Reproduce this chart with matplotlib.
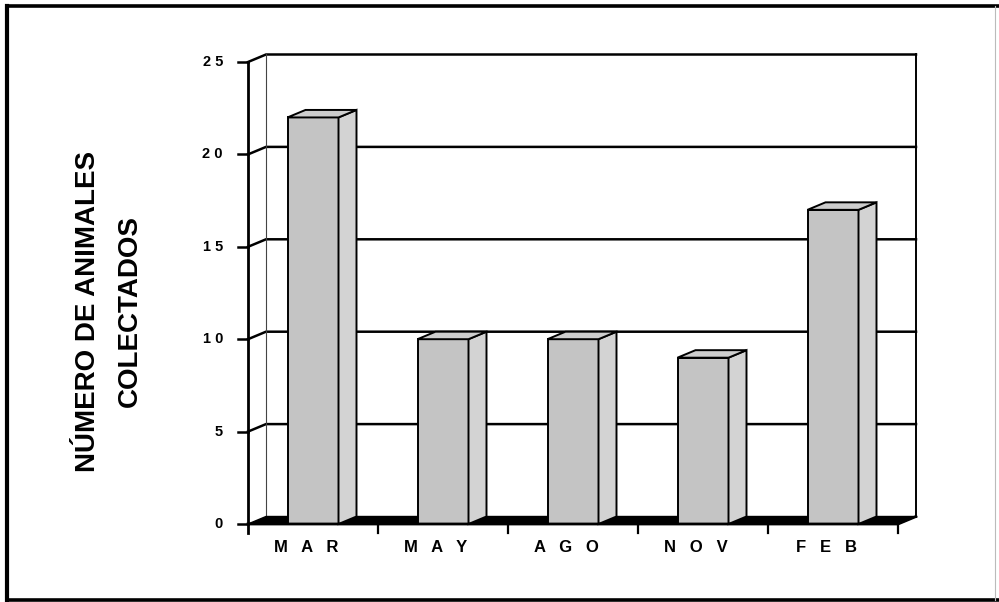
import matplotlib
matplotlib.use('Agg')
import matplotlib.pyplot as plt
from matplotlib.patches import Polygon
from matplotlib.lines import Line2D

categories = ['MAR', 'MAY', 'AGO', 'NOV', 'FEB']
values = [22, 10, 10, 9, 17]
yticks = [0, 5, 10, 15, 20, 25]
ylabel_lines = ['NÚMERO DE ANIMALES', 'COLECTADOS']

plt.rcParams['font.family'] = ['Liberation Sans', 'DejaVu Sans']

W, H = 999, 602
fig = plt.figure(figsize=(W / 100, H / 100), dpi=100)
fig.patch.set_facecolor('white')

# front plane in pixels
X0, X1 = 248, 898
Y0, Y1 = 524, 62
ax = fig.add_axes([X0 / W, 1 - Y0 / H, (X1 - X0) / W, (Y0 - Y1) / H])
n = len(categories)
ymax = yticks[-1]
ax.set_xlim(0, n)
ax.set_ylim(0, ymax)
ax.axis('off')

px_x = (X1 - X0) / n
px_y = (Y0 - Y1) / ymax
DX = 18 / px_x
DY = 7.5 / px_y

# back wall gridlines with connectors to front axis
for v in yticks[1:]:
    ax.plot([0, DX, n + DX], [v, v + DY, v + DY], color='black', lw=1.8,
            zorder=1, clip_on=False, solid_joinstyle='miter')
# back wall verticals
ax.plot([DX, DX], [DY, ymax + DY], color='#444444', lw=0.8, zorder=1, clip_on=False)
ax.plot([n + DX, n + DX], [DY, ymax + DY], color='black', lw=1.4, zorder=1, clip_on=False)

# floor
ax.add_patch(Polygon([(0, 0), (n, 0), (n + DX, DY), (DX, DY)], closed=True,
                     fc='black', ec='black', lw=1, zorder=2, clip_on=False))

# bars
bw = 51 / px_x
front_c = '#c4c4c4'
side_c = '#d3d3d3'
top_c = '#cdcdcd'
for i, v in enumerate(values):
    c = i + 0.5
    xa, xb = c - bw / 2, c + bw / 2
    ax.add_patch(Polygon([(xa, 0), (xb, 0), (xb, v), (xa, v)], closed=True,
                         fc=front_c, ec='black', lw=1.4, zorder=3, clip_on=False))
    ax.add_patch(Polygon([(xb, 0), (xb + DX, DY), (xb + DX, v + DY), (xb, v)], closed=True,
                         fc=side_c, ec='black', lw=1.4, zorder=3, clip_on=False))
    ax.add_patch(Polygon([(xa, v), (xa + DX, v + DY), (xb + DX, v + DY), (xb, v)], closed=True,
                         fc=top_c, ec='black', lw=1.4, zorder=3, clip_on=False))

# front axes
tick_len_y = 10 / px_x
tick_len_x = 9 / px_y
ax.plot([0, 0], [-tick_len_x, ymax], color='black', lw=2, zorder=5, clip_on=False)
ax.plot([0, n, n + DX], [0, 0, DY], color='black', lw=2, zorder=5, clip_on=False,
        solid_joinstyle='miter')
for v in yticks:
    ax.plot([-tick_len_y, 0], [v, v], color='black', lw=1.8, zorder=5, clip_on=False)
    ax.text(-25 / px_x, v, ' '.join(str(v)), ha='right', va='center',
            fontsize=10.5, fontweight='bold', zorder=6)
for i in range(1, n + 1):
    ax.plot([i, i], [0, -tick_len_x], color='black', lw=1.6, zorder=5, clip_on=False)

for i, cat in enumerate(categories):
    ax.text(i + 0.5 - 7 / px_x, -24 / px_y, '   '.join(cat), ha='center', va='center',
            fontsize=12, fontweight='bold', zorder=6)

# y label (two lines)
fig.text(88 / W, 1 - 311 / H, ylabel_lines[0], rotation=90, ha='center', va='center',
         fontsize=20, fontweight='bold')
fig.text(130 / W, 1 - 311 / H, ylabel_lines[1], rotation=90, ha='center', va='center',
         fontsize=20, fontweight='bold')

# outer frame
def fline(xs, ys, lw, color='black'):
    fig.add_artist(Line2D([x / W for x in xs], [1 - y / H for y in ys], lw=lw,
                          color=color, transform=fig.transFigure,
                          solid_capstyle='projecting'))

fline([7, 7], [6, 600], 3.0)
fline([7, 999], [6, 6], 2.6)
fline([7, 999], [600, 600], 2.6)
fline([995, 995], [6, 600], 0.8, '#bbbbbb')

fig.savefig('out.png', dpi=100, facecolor='white')
